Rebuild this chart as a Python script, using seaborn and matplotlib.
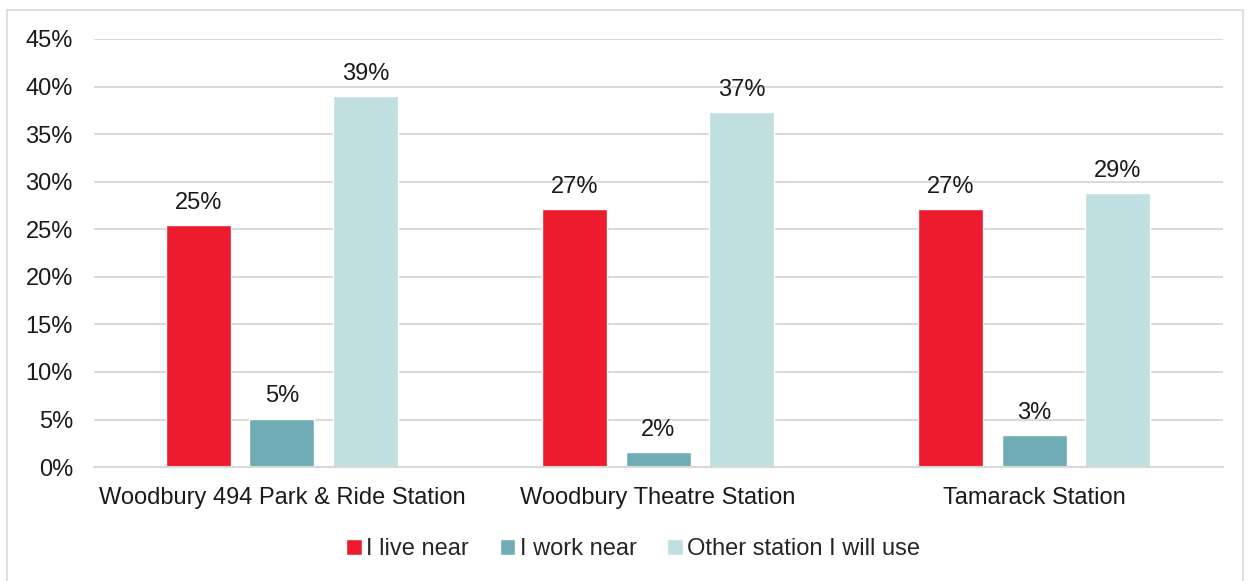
import pandas as pd
import seaborn as sns
import matplotlib.pyplot as plt
from matplotlib.patches import Rectangle

# data
stations = ["Woodbury 494 Park & Ride Station", "Woodbury Theatre Station", "Tamarack Station"]
reasons = ["I live near", "I work near", "Other station I will use"]
live_near = [0.254, 0.271, 0.271]
work_near = [0.051, 0.016, 0.034]
other_station = [0.390, 0.373, 0.288]
colors = ["#EC1C2E", "#70ACB5", "#BFDFE0"]

df = pd.DataFrame({
    "station": stations * 3,
    "reason": [reasons[0]] * 3 + [reasons[1]] * 3 + [reasons[2]] * 3,
    "share": live_near + work_near + other_station,
})

sns.set_theme(style="white")
plt.rcParams["font.family"] = ["Liberation Sans", "DejaVu Sans"]

fig = plt.figure(figsize=(12.5, 5.81), dpi=100)
ax = fig.add_axes([0.075, 0.196, 0.903, 0.737])

sns.barplot(data=df, x="station", y="share", hue="reason", order=stations,
            hue_order=reasons, palette=colors, width=0.666, gap=0.22,
            saturation=1, ax=ax, legend=True)

ax.set_ylim(0, 0.45)
ax.set_yticks([i * 0.05 for i in range(10)])
ax.set_yticklabels([f"{i * 5}%" for i in range(10)], fontsize=17, color="#1a1a1a")
ax.tick_params(axis="x", labelsize=17, colors="#1a1a1a", pad=14, length=0)
ax.tick_params(axis="y", length=0, pad=15)
ax.set_xlabel("")
ax.set_ylabel("")
ax.yaxis.grid(True, color="#D9D9D9", linewidth=1.5)
ax.set_axisbelow(True)
for side in ["top", "right", "left"]:
    ax.spines[side].set_visible(False)
ax.spines["bottom"].set_color("#D9D9D9")
ax.spines["bottom"].set_linewidth(1.5)

# value labels above the bars
for cont in ax.containers:
    ax.bar_label(cont, labels=[f"{v * 100:.0f}%" for v in cont.datavalues],
                 padding=8, fontsize=17, color="#1a1a1a")

handles, labels = ax.get_legend_handles_labels()
ax.legend(handles, labels, loc="center", bbox_to_anchor=(0.478, -0.192), ncol=3,
          frameon=False, fontsize=17, handlelength=0.65, handleheight=0.65,
          handletextpad=0.2, columnspacing=1.3)

# light frame around the chart
fig.patches.append(Rectangle((7 / 1250, -0.01), 1236 / 1250, 1 - 10 / 581 + 0.01,
                             transform=fig.transFigure, fill=False,
                             edgecolor="#D9D9D9", linewidth=1.2))

fig.savefig("out.png", dpi=100)
